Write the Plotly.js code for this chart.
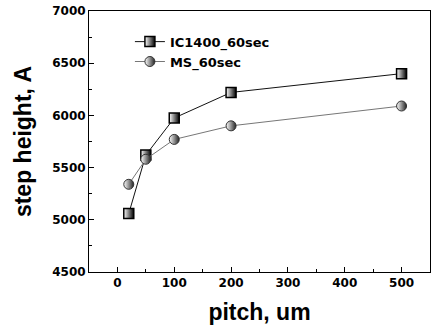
<!DOCTYPE html>
<html>
<head>
<meta charset="utf-8">
<script src="https://cdn.plot.ly/plotly-3.0.1.min.js"></script>
<style>html,body{margin:0;padding:0;background:#fff;}#chart{width:431px;height:329px;}</style>
</head>
<body>
<div id="chart"></div>
<script>
const pitch = [20, 50, 100, 200, 500];
const ic1400 = [5060, 5620, 5975, 6220, 6400];
const ms = [5340, 5580, 5770, 5900, 6090];
const seriesNames = ['IC1400_60sec', 'MS_60sec'];
const xTicks = [0, 100, 200, 300, 400, 500];
const yTicks = [4500, 5000, 5500, 6000, 6500, 7000];

const FONT = 'Liberation Sans, Arial, sans-serif';
const TFONT = 'DejaVu Sans, sans-serif';

const traces = [
  {
    x: pitch, y: ic1400, name: seriesNames[0], type: 'scatter', mode: 'lines+markers',
    line: {color: '#111', width: 1},
    marker: {symbol: 'square', size: 10, color: '#fff',
             gradient: {type: 'horizontal', color: '#000'},
             line: {color: '#000', width: 1.5}}
  },
  {
    x: pitch, y: ms, name: seriesNames[1], type: 'scatter', mode: 'lines+markers',
    line: {color: '#777', width: 1},
    marker: {symbol: 'circle', size: 10, color: '#fff',
             gradient: {type: 'horizontal', color: '#222'},
             line: {color: '#333', width: 1}}
  }
];

const layout = {
  width: 431, height: 329,
  margin: {l: 89, r: 1, t: 11, b: 57},
  paper_bgcolor: '#fff', plot_bgcolor: '#fff',
  showlegend: true,
  legend: {x: 0.12, y: 0.94, xanchor: 'left', yanchor: 'top',
           bgcolor: 'rgba(0,0,0,0)', borderwidth: 0,
           font: {family: TFONT, size: 13, weight: 'bold', color: '#000'},
           tracegroupgap: 0, itemwidth: 30},
  xaxis: {
    range: [-50, 550], tickvals: xTicks, ticktext: xTicks.map(String),
    ticks: 'inside', ticklen: 5, tickwidth: 1, tickcolor: '#000',
    minor: {dtick: 50, tick0: 0, ticks: 'inside', ticklen: 3, tickcolor: '#000'},
    showline: true, linecolor: '#000', linewidth: 1, mirror: true,
    showgrid: false, zeroline: false,
    tickfont: {family: TFONT, size: 12, weight: 'bold', color: '#000'},
    title: {text: 'pitch, um', font: {family: FONT, size: 23, weight: 'bold', color: '#000'}, standoff: 14}
  },
  yaxis: {
    range: [4500, 7000], tickvals: yTicks, ticktext: yTicks.map(String),
    ticks: 'inside', ticklen: 5, tickwidth: 1, tickcolor: '#000',
    minor: {dtick: 250, tick0: 4500, ticks: 'inside', ticklen: 3, tickcolor: '#000'},
    showline: true, linecolor: '#000', linewidth: 1, mirror: true,
    showgrid: false, zeroline: false,
    tickfont: {family: TFONT, size: 12, weight: 'bold', color: '#000'},
    title: {text: 'step height, A', font: {family: FONT, size: 23, weight: 'bold', color: '#000'}, standoff: 14}
  }
};

Plotly.newPlot('chart', traces, layout, {displayModeBar: false, staticPlot: true});
</script>
</body>
</html>
